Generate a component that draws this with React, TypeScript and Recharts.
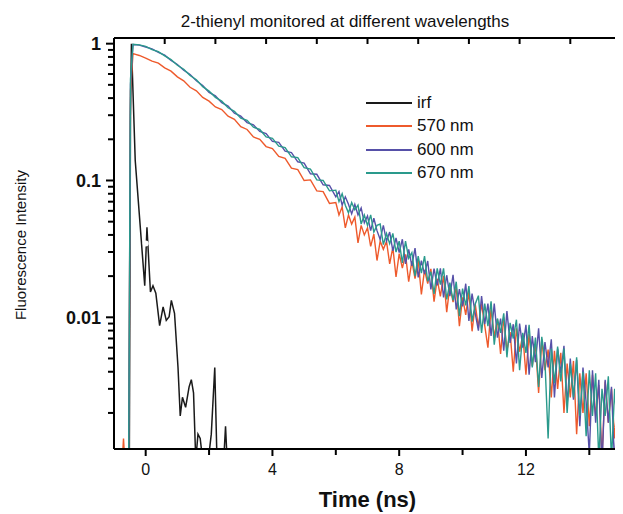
import { LineChart, Line, XAxis, YAxis, Legend } from "recharts";

const time = [
  -1.0, -0.8, -0.7, -0.6, -0.54, -0.48, -0.4, -0.2,
  0, 0.2, 0.4, 0.6, 0.8, 1.0, 1.2, 1.4, 1.6, 1.8,
  2.0, 2.2, 2.4, 2.6, 2.8, 3.0, 3.2, 3.4, 3.6, 3.8,
  4.0, 4.2, 4.4, 4.6, 4.8, 5.0, 5.2, 5.4, 5.6, 5.8,
  6.0, 6.1, 6.2, 6.3, 6.4, 6.5, 6.6, 6.7, 6.8, 6.9,
  7.0, 7.1, 7.2, 7.3, 7.4, 7.5, 7.6, 7.7, 7.8, 7.9,
  8.0, 8.1, 8.2, 8.3, 8.4, 8.5, 8.6, 8.7, 8.8, 8.9,
  9.0, 9.1, 9.2, 9.3, 9.4, 9.5, 9.6, 9.7, 9.8, 9.9,
  10.0, 10.1, 10.2, 10.3, 10.4, 10.5, 10.6, 10.7, 10.8, 10.9,
  11.0, 11.1, 11.2, 11.3, 11.4, 11.5, 11.6, 11.7, 11.8, 11.9,
  12.0, 12.1, 12.2, 12.3, 12.4, 12.5, 12.6, 12.7, 12.8, 12.9,
  13.0, 13.1, 13.2, 13.3, 13.4, 13.5, 13.6, 13.7, 13.8, 13.9,
  14.0, 14.1, 14.2, 14.3, 14.4, 14.5, 14.6, 14.7, 14.8, 14.9,
  15.0,
];

const nm570 = [
  0.0005, 0.0005, 0.0013, 0.0005, 0.0006, 0.45, 0.845, 0.82,
  0.785, 0.745, 0.72, 0.665, 0.63, 0.572, 0.535, 0.48, 0.452, 0.405,
  0.38, 0.345, 0.33, 0.295, 0.28, 0.247, 0.236, 0.208, 0.2, 0.177,
  0.171, 0.15, 0.145, 0.123, 0.12, 0.1, 0.101, 0.084, 0.083, 0.068,
  0.069, 0.056, 0.064, 0.045, 0.056, 0.048, 0.054, 0.035, 0.047, 0.04,
  0.045, 0.033, 0.0405, 0.026, 0.036, 0.0314, 0.0358, 0.0246, 0.0325, 0.0197,
  0.0292, 0.0229, 0.0288, 0.0182, 0.0257, 0.0192, 0.0262, 0.0147, 0.0222, 0.0176,
  0.0226, 0.013, 0.0191, 0.0142, 0.0201, 0.0109, 0.0171, 0.0129, 0.0166, 0.0086,
  0.014, 0.0104, 0.0153, 0.0079, 0.0125, 0.0084, 0.0126, 0.0087, 0.006, 0.0116,
  0.0072, 0.0097, 0.0054, 0.01, 0.0057, 0.0078, 0.004, 0.0083, 0.0056, 0.0075,
  0.0038, 0.0076, 0.0044, 0.0064, 0.0028, 0.0069, 0.0041, 0.0058, 0.0026, 0.0057,
  0.003, 0.0055, 0.002, 0.0046, 0.0026, 0.0048, 0.0014, 0.0039, 0.002, 0.0039,
  0.0016, 0.0038, 0.0019, 0.0032, 0.0009, 0.0034, 0.0017, 0.003, 0.0013, 0.003,
  0.002,
];

const nm600 = [
  0.0005, 0.0005, 0.0005, 0.0005, 0.0006, 0.5, 0.985, 0.975,
  0.945, 0.915, 0.865, 0.825, 0.755, 0.705, 0.64, 0.595, 0.535, 0.495,
  0.44, 0.415, 0.37, 0.35, 0.31, 0.295, 0.265, 0.255, 0.228, 0.22,
  0.193, 0.19, 0.164, 0.16, 0.137, 0.134, 0.112, 0.111, 0.093, 0.092,
  0.076, 0.083, 0.066, 0.076, 0.067, 0.057, 0.067, 0.056, 0.063, 0.049,
  0.055, 0.043, 0.053, 0.043, 0.037, 0.047, 0.036, 0.042, 0.0306, 0.038,
  0.0297, 0.0372, 0.0246, 0.0314, 0.0238, 0.0321, 0.0196, 0.0259, 0.0207, 0.0258,
  0.016, 0.0227, 0.0171, 0.0228, 0.014, 0.0203, 0.0143, 0.0204, 0.0114, 0.0161,
  0.012, 0.0176, 0.0094, 0.0149, 0.0107, 0.008, 0.0143, 0.0089, 0.0126, 0.0073,
  0.0126, 0.0071, 0.0098, 0.0057, 0.0111, 0.0065, 0.0089, 0.0046, 0.009, 0.006,
  0.0088, 0.0038, 0.0073, 0.0047, 0.0083, 0.0036, 0.0066, 0.0043, 0.0069, 0.0026,
  0.0059, 0.0039, 0.0062, 0.0023, 0.005, 0.0025, 0.0049, 0.0016, 0.0043, 0.0024,
  0.001, 0.0041, 0.0017, 0.0035, 0.0008, 0.0035, 0.0017, 0.0031, 0.0008, 0.0031,
  0.002,
];

const nm670 = [
  0.0005, 0.0005, 0.0005, 0.0005, 0.0006, 0.55, 0.99, 0.98,
  0.955, 0.905, 0.875, 0.815, 0.765, 0.695, 0.65, 0.585, 0.545, 0.485,
  0.45, 0.405, 0.38, 0.34, 0.32, 0.285, 0.275, 0.245, 0.236, 0.208,
  0.203, 0.178, 0.174, 0.149, 0.147, 0.124, 0.121, 0.101, 0.1, 0.084,
  0.085, 0.07, 0.08, 0.066, 0.058, 0.069, 0.061, 0.066, 0.048, 0.056,
  0.047, 0.056, 0.042, 0.047, 0.048, 0.034, 0.041, 0.0345, 0.041, 0.03,
  0.036, 0.025, 0.036, 0.027, 0.0297, 0.02, 0.028, 0.021, 0.028, 0.0183,
  0.0215, 0.0148, 0.0228, 0.0173, 0.0228, 0.0135, 0.0179, 0.0133, 0.0182, 0.0102,
  0.0162, 0.0122, 0.0169, 0.0093, 0.0125, 0.0144, 0.0077, 0.0126, 0.0086, 0.0131,
  0.0063, 0.0098, 0.0077, 0.0107, 0.0051, 0.0091, 0.007, 0.0096, 0.0041, 0.0077,
  0.0055, 0.0088, 0.0043, 0.0071, 0.0031, 0.0072, 0.0048, 0.0013, 0.0059, 0.0033,
  0.0061, 0.0034, 0.0059, 0.002, 0.0046, 0.0026, 0.0051, 0.0019, 0.004, 0.00135,
  0.0041, 0.0019, 0.0039, 0.0009, 0.003, 0.0019, 0.0037, 0.0009, 0.003, 0.0013,
  0.003,
];

const irfTime = [
  -1.0, -0.52, -0.48, -0.45, -0.33, -0.03, 0.04, 0.15, 0.23, 0.32,
  0.44, 0.55, 0.65, 0.74, 0.81, 0.91, 1.02, 1.09, 1.16, 1.26,
  1.37, 1.44, 1.51, 1.58, 1.65, 1.72, 1.8, 1.95, 2.07, 2.18,
  2.25, 2.35, 2.45, 2.52, 2.58, 2.7,
];
const irfValue = [
  0.0005, 0.0005, 0.3, 1.0, 0.14, 0.017, 0.0455, 0.0153, 0.017, 0.015,
  0.0087, 0.0119, 0.0095, 0.0101, 0.0133, 0.0107, 0.0043, 0.0019, 0.0026, 0.0022,
  0.0031, 0.0035, 0.0028, 0.0009, 0.0014, 0.0013, 0.0009, 0.0008, 0.0014, 0.0043,
  0.0009, 0.0008, 0.0008, 0.0016, 0.0008, 0.0008,
];

const legendOrder = ["irf", "570 nm", "600 nm", "670 nm"];
const xTicks = [0, 2, 4, 6, 8, 10, 12, 14];
const xLabeled = [0, 4, 8, 12];
const topTicks = [0.6, 2.2, 3.8, 5.4, 7.0, 8.6, 10.2, 11.8, 13.4];
const yTicks = [
  0.002, 0.003, 0.004, 0.005, 0.006, 0.007, 0.008, 0.009, 0.01,
  0.02, 0.03, 0.04, 0.05, 0.06, 0.07, 0.08, 0.09, 0.1,
  0.2, 0.3, 0.4, 0.5, 0.6, 0.7, 0.8, 0.9, 1,
];
const yLabeled = [0.01, 0.1, 1];
const rightTicks = [0.05, 1.05, 2.05, 3.05, 4.05, 5.05, 6.05, 7.05, 8.05, 9.05];

const FONT = "'Liberation Sans', Arial, sans-serif";
const C_IRF = "#1a1a1a";
const C_570 = "#ee5a2c";
const C_600 = "#5650a8";
const C_670 = "#2a9a8c";
const AXIS = { stroke: "#000", strokeWidth: 2 };

const decayRows = time.map((t, i) => ({ t, a: nm570[i], b: nm600[i], c: nm670[i] }));
const irfRows = irfTime.map((t, i) => ({ t, irf: irfValue[i] }));
// only there so the top and right frame axes get their ticks
const frameRows = [{ t: 0, f: 5 }];

function BottomTick({ x, y, payload }: any) {
  const major = xLabeled.includes(payload.value);
  return (
    <g>
      <path d={`M${x},${y}V${y + (major ? 7 : 6)}`} stroke="#000" strokeWidth={2} fill="none" />
      {major && (
        <text x={x} y={y + 26} textAnchor="middle" fontSize={16} fontFamily={FONT} fill="#111">
          {payload.value}
        </text>
      )}
    </g>
  );
}

function TopTick({ x, y }: any) {
  return <path d={`M${x},${y}V${y + 6}`} stroke="#000" strokeWidth={2} fill="none" />;
}

function RightTick({ x, y }: any) {
  return <path d={`M${x - 6},${y}H${x}`} stroke="#000" strokeWidth={2} fill="none" />;
}

function LeftTick({ x, y, payload }: any) {
  const major = yLabeled.includes(payload.value);
  return (
    <g>
      <path d={`M${x - (major ? 8 : 6)},${y}H${x}`} stroke="#000" strokeWidth={2} fill="none" />
      {major && (
        <text x={x - 13} y={y} dy="0.36em" textAnchor="end" fontSize={18} fontWeight="bold"
          fontFamily={FONT} fill="#111">
          {String(payload.value)}
        </text>
      )}
    </g>
  );
}

function LegendBox({ payload }: any) {
  const items = (payload ?? []).filter((p: any) => legendOrder.includes(p.value));
  return (
    <div style={{ fontFamily: FONT }}>
      {items.map((p: any) => (
        <div key={p.value} style={{ display: "flex", alignItems: "center", height: 23.5 }}>
          <span style={{ width: 46, height: 2, background: p.color, display: "inline-block" }} />
          <span style={{ marginLeft: 5, fontSize: 17, color: "#111" }}>{p.value}</span>
        </div>
      ))}
    </div>
  );
}

export default function App() {
  return (
    <div style={{ position: "relative", width: 615, height: 506, background: "#fff" }}>
      <div style={{
        position: "absolute", left: 0, width: 674, top: 4, textAlign: "center",
        fontFamily: FONT, fontSize: 17, color: "#111",
      }}>
        2-thienyl monitored at different wavelengths
      </div>
      <div style={{
        position: "absolute", left: 12, top: 237, transform: "translate(-50%, -50%) rotate(-90deg)",
        whiteSpace: "nowrap", fontFamily: FONT, fontSize: 15, color: "#111",
      }}>
        Fluorescence Intensity
      </div>
      <div style={{
        position: "absolute", left: 106, width: 507, top: 479, textAlign: "center",
        fontFamily: FONT, fontSize: 22, fontWeight: "bold", color: "#111",
      }}>
        Time (ns)
      </div>
      <LineChart width={615} height={506} margin={{ top: 20, right: 1, bottom: 20, left: 46 }}>
        <XAxis dataKey="t" type="number" domain={[-1, 15]} ticks={xTicks} allowDataOverflow
          interval={0} height={45} tickSize={0} tickMargin={0} tick={<BottomTick />}
          tickLine={false} axisLine={AXIS} />
        <XAxis xAxisId="top" dataKey="t" orientation="top" type="number" domain={[-1, 15]}
          ticks={topTicks} allowDataOverflow interval={0} height={10} tickSize={0} tickMargin={0}
          tick={<TopTick />} tickLine={false} axisLine={AXIS} />
        <YAxis type="number" scale="log" domain={[0.00109, 1.1]} allowDataOverflow ticks={yTicks}
          interval={0} width={60} tickSize={0} tickMargin={0} tick={<LeftTick />}
          tickLine={false} axisLine={AXIS} />
        <YAxis yAxisId="r" dataKey="f" orientation="right" type="number" domain={[0, 10]}
          ticks={rightTicks} allowDataOverflow interval={0} width={1} tickSize={0} tickMargin={0}
          tick={<RightTick />} tickLine={false} axisLine={AXIS} />
        <Legend layout="vertical" verticalAlign="middle" align="center" content={<LegendBox />}
          itemSorter={(item: any) => legendOrder.indexOf(item.value)}
          wrapperStyle={{ left: 358, top: 83, width: 140 }} />
        <Line data={frameRows} dataKey="f" xAxisId="top" yAxisId="r" stroke="none"
          legendType="none" dot={false} activeDot={false} isAnimationActive={false} />
        <Line data={irfRows} dataKey="irf" name="irf" stroke={C_IRF} strokeWidth={1.5}
          dot={false} isAnimationActive={false} />
        <Line data={decayRows} dataKey="a" name="570 nm" stroke={C_570} strokeWidth={1.4}
          dot={false} isAnimationActive={false} />
        <Line data={decayRows} dataKey="b" name="600 nm" stroke={C_600} strokeWidth={1.4}
          dot={false} isAnimationActive={false} />
        <Line data={decayRows} dataKey="c" name="670 nm" stroke={C_670} strokeWidth={1.4}
          dot={false} isAnimationActive={false} />
      </LineChart>
    </div>
  );
}
